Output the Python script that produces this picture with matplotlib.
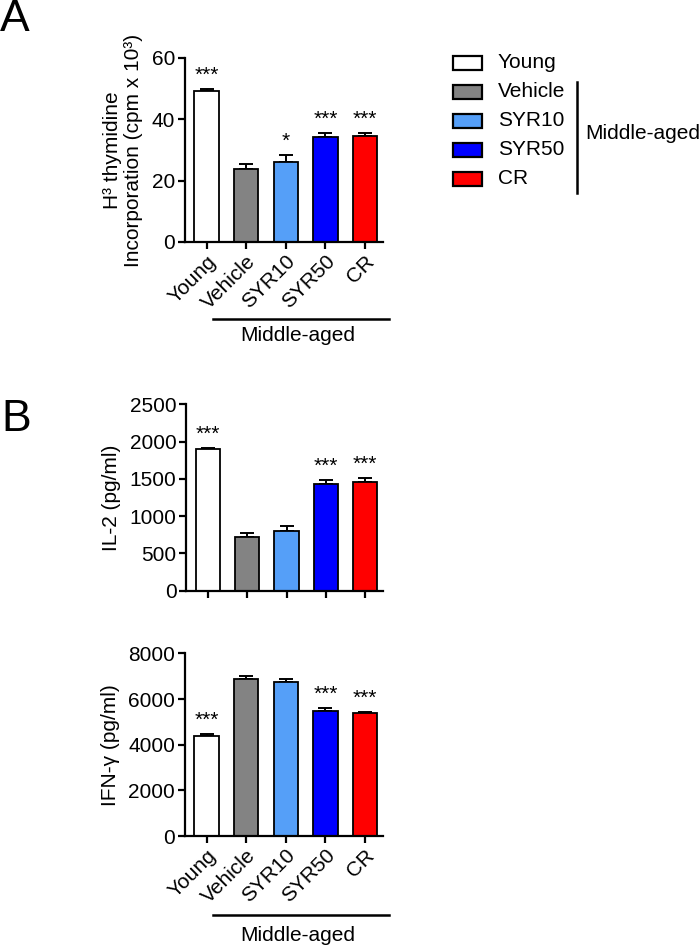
import matplotlib
matplotlib.use("Agg")
import matplotlib.pyplot as plt
from matplotlib.patches import Rectangle
import numpy as np

plt.rcParams['font.family'] = ['Liberation Sans', 'DejaVu Sans']

groups = ['Young', 'Vehicle', 'SYR10', 'SYR50', 'CR']
colors = ['#ffffff', '#838383', '#559ff8', '#0000ff', '#ff0000']

thy_mean = [49.2, 23.9, 26.0, 34.2, 34.4]
thy_err = [0.7, 1.4, 2.2, 1.3, 1.0]
thy_sig = ['***', '', '*', '***', '***']

il2_mean = [1895, 725, 805, 1430, 1455]
il2_err = [25, 45, 70, 60, 55]
il2_sig = ['***', '', '', '***', '***']

ifn_mean = [4380, 6890, 6760, 5460, 5370]
ifn_err = [90, 120, 100, 140, 60]
ifn_sig = ['***', '', '', '***', '***']

fig = plt.figure(figsize=(7, 9.47), dpi=100)


def bar_panel(ax, mean, err, sig, ymax, step, ylabel, xlabels=True):
    x = np.arange(len(groups))
    ax.errorbar(x, mean, yerr=[np.zeros(len(err)), err], fmt='none',
                ecolor='black', elinewidth=1.4, capsize=5, capthick=1.4, zorder=1)
    ax.bar(x, mean, width=0.62, color=colors, edgecolor='black', linewidth=1.3, zorder=2)
    for xi, m, e, s in zip(x, mean, err, sig):
        if s:
            ax.annotate(s, (xi, m + e), xytext=(0, 3), textcoords='offset points',
                        ha='center', va='bottom', fontsize=15)
    ax.set_xlim(-0.55, 4.45)
    ax.set_ylim(0, ymax)
    ax.set_yticks(np.arange(0, ymax + 1, step))
    ax.set_xticks(x)
    if xlabels:
        ax.set_xticklabels(groups, rotation=45, ha='right', rotation_mode='anchor')
    else:
        ax.set_xticklabels([])
    ax.spines['top'].set_visible(False)
    ax.spines['right'].set_visible(False)
    ax.spines['left'].set_linewidth(1.6)
    ax.spines['bottom'].set_linewidth(1.6)
    ax.tick_params(axis='both', labelsize=15, width=1.6, length=5, pad=2)
    ax.set_ylabel(ylabel, fontsize=15, labelpad=6, linespacing=1.15)


def group_bar(ax, ytxt_line, ytxt):
    ax.plot([0.15, 4.6], [ytxt_line, ytxt_line], transform=ax.get_xaxis_transform(),
            color='black', linewidth=1.8, clip_on=False)
    ax.text(2.3, ytxt, 'Middle-aged', transform=ax.get_xaxis_transform(),
            ha='center', va='center', fontsize=15)


axA = fig.add_axes([0.264, 0.7445, 0.283, 0.1943])
bar_panel(axA, thy_mean, thy_err, thy_sig, 60, 20,
          'H\u00b3 thymidine\nIncorporation (cpm x 10\u00b3)')
group_bar(axA, -0.42, -0.507)

axB1 = fig.add_axes([0.266, 0.3762, 0.281, 0.1968])
bar_panel(axB1, il2_mean, il2_err, il2_sig, 2500, 500, 'IL-2 (pg/ml)', xlabels=False)

axB2 = fig.add_axes([0.264, 0.1172, 0.283, 0.1929])
bar_panel(axB2, ifn_mean, ifn_err, ifn_sig, 8000, 2000, 'IFN-\u03b3 (pg/ml)')
group_bar(axB2, -0.432, -0.542)

# overlay for panel letters and legend (pixel coordinates)
ov = fig.add_axes([0, 0, 1, 1])
ov.set_xlim(0, 700)
ov.set_ylim(947, 0)
ov.axis('off')
ov.text(0, 19, 'A', fontsize=32, va='center', ha='left')
ov.text(1, 419, 'B', fontsize=32, va='center', ha='left')

for i, (name, c) in enumerate(zip(groups, colors)):
    y = 62.7 + 29 * i
    ov.add_patch(Rectangle((453, y - 7), 29, 14, facecolor=c, edgecolor='black', linewidth=1.6))
    ov.text(498, y, name, fontsize=15, va='center', ha='left')
ov.plot([577, 577], [82, 193], color='black', linewidth=1.8)
ov.text(585, 133, 'Middle-aged', fontsize=15, va='center', ha='left')

fig.savefig('out.png', dpi=100)
